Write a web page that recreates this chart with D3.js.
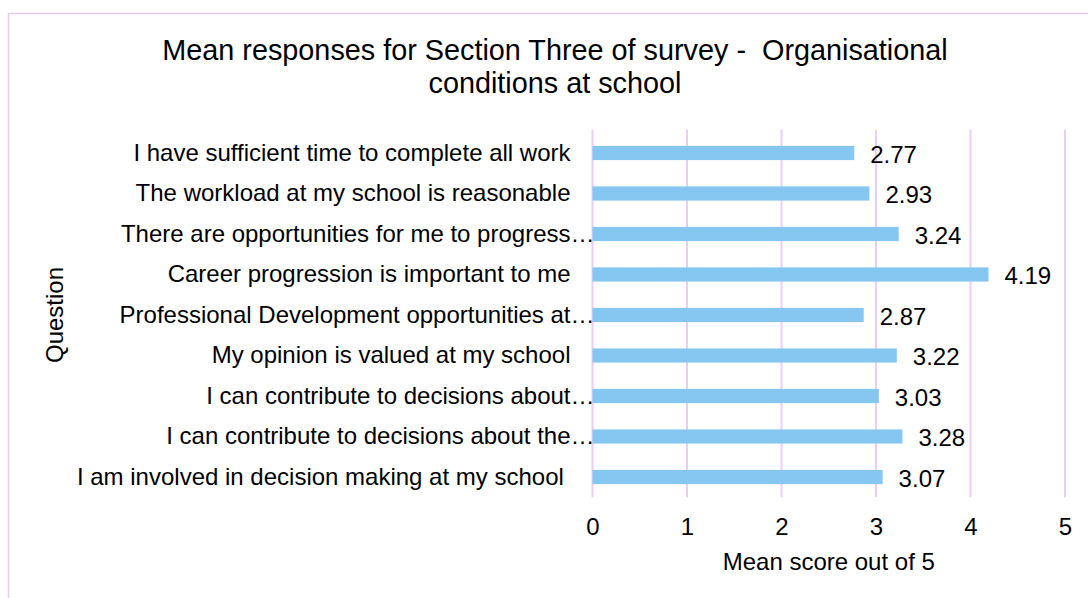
<!DOCTYPE html>
<html>
<head>
<meta charset="utf-8">
<script src="https://cdn.jsdelivr.net/npm/d3@7"></script>
<style>
  html, body { margin: 0; padding: 0; background: #ffffff; }
  svg { display: block; font-family: "Liberation Sans", Arial, sans-serif; }
  text { white-space: pre; }
</style>
</head>
<body>
<svg id="chart" width="1088" height="598"></svg>
<script>
// Survey questions (top to bottom) and their mean scores
const questions = [
  "I have sufficient time to complete all work",
  "The workload at my school is reasonable",
  "There are opportunities for me to progress…",
  "Career progression is important to me",
  "Professional Development opportunities at…",
  "My opinion is valued at my school",
  "I can contribute to decisions about…",
  "I can contribute to decisions about the…",
  "I am involved in decision making at my school "
];
const meanScores = [2.77, 2.93, 3.24, 4.19, 2.87, 3.22, 3.03, 3.28, 3.07];
const xTicks = [0, 1, 2, 3, 4, 5];

const titleLines = ["Mean responses for Section Three of survey -  Organisational", "conditions at school"];
const xAxisTitle = "Mean score out of 5";
const yAxisTitle = "Question";

const svg = d3.select("#chart");
const W = 1088, H = 598;
const plot = { left: 592.5, right: 1065, top: 132.75, bottom: 497.25 };
const FONT = 24;
const LABEL_GAP = 22;

// Outer chart frame
svg.append("rect")
  .attr("x", 8.5).attr("y", 13.5)
  .attr("width", W + 20).attr("height", H + 20)
  .attr("fill", "#ffffff")
  .attr("stroke", "#e3cdf6").attr("stroke-width", 1.5);

const x = d3.scaleLinear().domain([0, 5]).range([plot.left, plot.right]);
const y = d3.scaleBand().domain(questions).range([plot.top, plot.bottom]).paddingInner(0.65).paddingOuter(0.325);

// Vertical gridlines
svg.append("g")
  .selectAll("line")
  .data(xTicks)
  .join("line")
  .attr("x1", d => x(d)).attr("x2", d => x(d))
  .attr("y1", plot.top - 3).attr("y2", plot.bottom)
  .attr("stroke", "#e6cff8").attr("stroke-width", 2);

// Bars
svg.append("g")
  .selectAll("rect")
  .data(questions)
  .join("rect")
  .attr("x", x(0))
  .attr("y", d => y(d))
  .attr("width", (d, i) => x(meanScores[i]) - x(0))
  .attr("height", y.bandwidth())
  .attr("fill", "#85c7f0");

// Value labels
svg.append("g")
  .selectAll("text")
  .data(questions)
  .join("text")
  .attr("x", (d, i) => x(meanScores[i]) + 16)
  .attr("y", d => y(d) + y.bandwidth() / 2)
  .attr("dy", "0.4em")
  .attr("font-size", FONT)
  .attr("fill", "#000")
  .text((d, i) => meanScores[i].toFixed(2));

// Category axis (labels only); a trailing ellipsis overhangs the label column
const yAxis = d3.axisLeft(y).tickSize(0).tickPadding(LABEL_GAP);
const gy = svg.append("g").attr("transform", `translate(${plot.left},0)`).call(yAxis);
gy.select(".domain").remove();
gy.selectAll("text").attr("font-size", FONT).attr("fill", "#000").attr("font-family", "Liberation Sans, Arial, sans-serif");
const probe = svg.append("text").attr("font-size", FONT).text("…");
const ellipsisW = probe.node().getComputedTextLength();
probe.remove();
gy.selectAll("text").attr("x", d => -LABEL_GAP + (d.endsWith("…") ? ellipsisW : 0));

// Value axis (tick labels only)
const xAxis = d3.axisBottom(x).tickValues(xTicks).tickFormat(d3.format("d")).tickSize(0).tickPadding(21);
const gx = svg.append("g").attr("transform", `translate(0,${plot.bottom})`).call(xAxis);
gx.select(".domain").remove();
gx.selectAll("text").attr("font-size", FONT).attr("fill", "#000").attr("font-family", "Liberation Sans, Arial, sans-serif");

// Title
svg.append("text")
  .attr("text-anchor", "middle")
  .attr("font-size", 28.8)
  .attr("fill", "#000")
  .selectAll("tspan")
  .data(titleLines)
  .join("tspan")
  .attr("x", 555)
  .attr("y", (d, i) => 60 + i * 33)
  .text(d => d);

// Axis titles
svg.append("text")
  .attr("x", (plot.left + plot.right) / 2)
  .attr("y", 570)
  .attr("text-anchor", "middle")
  .attr("font-size", FONT)
  .attr("fill", "#000")
  .text(xAxisTitle);

svg.append("text")
  .attr("transform", `translate(63,${(plot.top + plot.bottom) / 2}) rotate(-90)`)
  .attr("text-anchor", "middle")
  .attr("font-size", FONT)
  .attr("fill", "#000")
  .text(yAxisTitle);
</script>
</body>
</html>
